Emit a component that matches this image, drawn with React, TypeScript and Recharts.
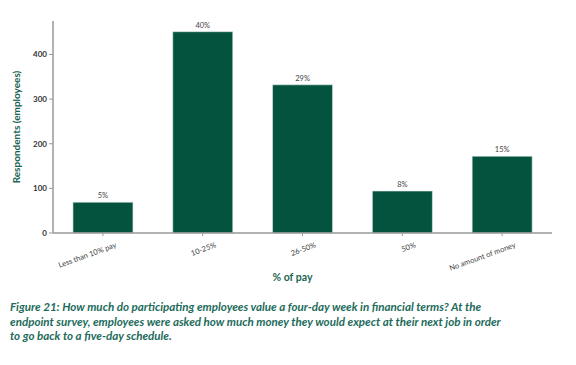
import React from "react";
import { BarChart, Bar, XAxis, YAxis, LabelList } from "recharts";

const categories = ["Less than 10% pay", "10-25%", "26-50%", "50%", "No amount of money"];
const respondents = [69, 451, 332, 94, 172];
const shareLabels = ["5%", "40%", "29%", "8%", "15%"];
const yTicks = [0, 100, 200, 300, 400];
const captionLines = [
  "Figure 21: How much do participating employees value a four-day week in financial terms? At the",
  "endpoint survey, employees were asked how much money they would expect at their next job in order",
  "to go back to a five-day schedule.",
];

const data = categories.map((c, i) => ({ name: c, value: respondents[i], share: shareLabels[i] }));

const FONT = "Lato, 'DejaVu Sans', sans-serif";
const BAR = "#03533f";
const GREEN_TEXT = "#1a6552";

const XTick = (props: any) => {
  const { x, y, payload } = props;
  return (
    <g transform={`translate(${x},${y})`}>
      <text
        x={14}
        y={9}
        textAnchor="end"
        transform="rotate(-20 14 9)"
        fontSize={7.5}
        fontFamily={FONT}
        fill="#444"
      >
        {payload.value}
      </text>
    </g>
  );
};

export default function App() {
  return (
    <div style={{ position: "absolute", left: 0, top: 0, width: 576, height: 365, background: "#fff" }}>
      <BarChart
        width={576}
        height={290}
        data={data}
        margin={{ top: 21, right: 24, left: 0, bottom: 0 }}
        barCategoryGap="20%"
      >
        <XAxis
          dataKey="name"
          height={57}
          interval={0}
          tick={<XTick />}
          tickSize={3}
          tickMargin={2}
          axisLine={{ stroke: "#999", strokeWidth: 1.5 }}
          tickLine={{ stroke: "#999" }}
          label={{
            value: "% of pay",
            position: "insideBottom",
            offset: 9,
            dx: -10,
            style: { fontFamily: FONT, fontWeight: 700, fontSize: 10.5, fill: GREEN_TEXT },
          }}
        />
        <YAxis
          width={53}
          domain={[0, 475]}
          ticks={yTicks}
          tickSize={4}
          tickMargin={2}
          axisLine={{ stroke: "#999", strokeWidth: 1.5 }}
          tickLine={{ stroke: "#999" }}
          tick={{ fontSize: 8, fontWeight: 700, fill: "#333", fontFamily: FONT }}
          label={{
            value: "Respondents (employees)",
            angle: -90,
            position: "insideLeft",
            offset: 16,
            style: { textAnchor: "middle", fontFamily: FONT, fontWeight: 700, fontSize: 10, fill: GREEN_TEXT },
          }}
        />
        <Bar dataKey="value" fill={BAR} stroke="#dfe9e5" strokeWidth={0.6} isAnimationActive={false}>
          <LabelList
            dataKey="share"
            position="top"
            offset={4}
            style={{ fontSize: 7.5, fill: "#444", fontFamily: FONT }}
          />
        </Bar>
      </BarChart>
      {captionLines.map((line, i) => (
        <div
          key={i}
          style={{
            position: "absolute",
            left: 10,
            top: 300 + i * 14.5,
            whiteSpace: "nowrap",
            fontFamily: FONT,
            fontStyle: "italic",
            fontWeight: 700,
            fontSize: 11.6,
            lineHeight: "14px",
            color: "#1d6b5b",
          }}
        >
          {line}
        </div>
      ))}
    </div>
  );
}
